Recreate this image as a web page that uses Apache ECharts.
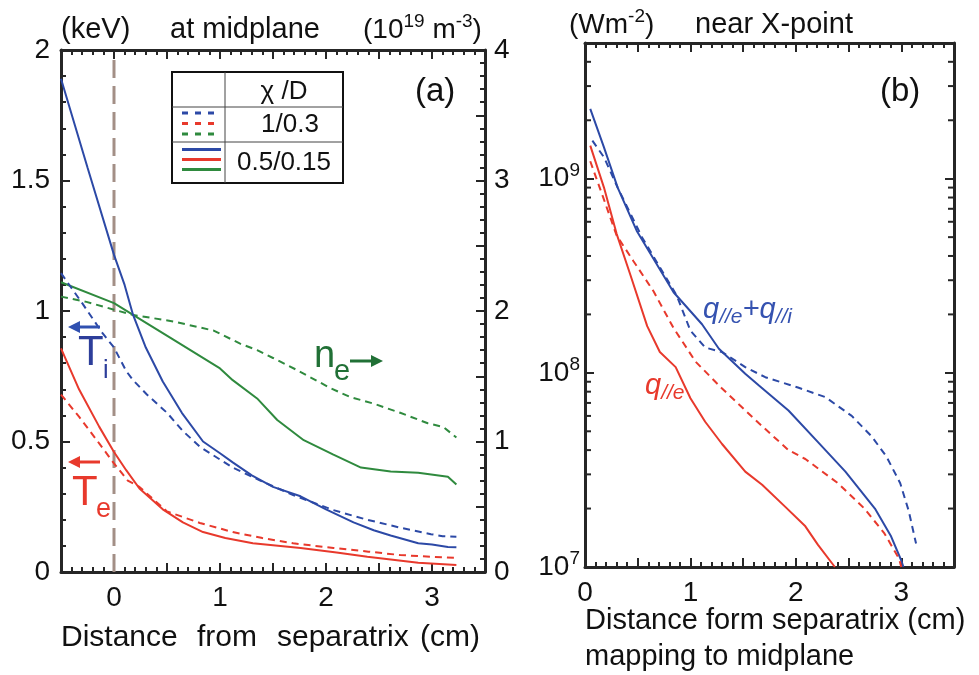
<!DOCTYPE html>
<html>
<head>
<meta charset="utf-8">
<script src="https://cdn.jsdelivr.net/npm/echarts@6/dist/echarts.min.js"></script>
<style>
  html, body { margin: 0; padding: 0; background: #fff; }
  #chart { width: 979px; height: 675px; }
</style>
</head>
<body>
<div id="chart"></div>
<script>
// (a) at midplane: [distance cm, keV] / [distance cm, 10^19 m^-3]
var tiSolid = [[-0.5,1.89],[-0.25,1.55],[0,1.215],[0.1,1.10],[0.18,0.985],[0.3,0.86],[0.46,0.73],[0.64,0.61],[0.84,0.50],[1.0,0.455],[1.12,0.42],[1.3,0.37],[1.5,0.326],[1.76,0.29],[2.0,0.24],[2.26,0.19],[2.45,0.16],[2.61,0.14],[2.87,0.11],[3.0,0.105],[3.15,0.096],[3.23,0.095]];
var tiDash = [[-0.5,1.145],[-0.3,1.03],[-0.11,0.916],[0,0.86],[0.115,0.77],[0.18,0.735],[0.31,0.68],[0.5,0.61],[0.65,0.54],[0.81,0.48],[1.12,0.40],[1.38,0.35],[1.69,0.295],[2.07,0.237],[2.39,0.20],[2.7,0.17],[2.99,0.145],[3.1,0.137],[3.23,0.135]];
var teSolid = [[-0.5,0.857],[-0.33,0.70],[-0.14,0.557],[0,0.46],[0.115,0.39],[0.24,0.32],[0.46,0.24],[0.65,0.19],[0.84,0.153],[1.05,0.13],[1.31,0.11],[1.76,0.092],[2.1,0.075],[2.39,0.058],[2.87,0.035],[3.23,0.027]];
var teDash = [[-0.5,0.68],[-0.33,0.595],[-0.14,0.493],[0,0.416],[0.13,0.35],[0.24,0.326],[0.5,0.232],[0.81,0.188],[1.12,0.153],[1.4,0.13],[1.69,0.11],[2.07,0.092],[2.4,0.078],[2.7,0.065],[3.0,0.058],[3.23,0.054]];
var neSolid = [[-0.5,2.22],[0,2.06],[0.18,1.97],[0.56,1.78],[1.0,1.56],[1.12,1.47],[1.35,1.33],[1.54,1.165],[1.79,1.01],[2.07,0.90],[2.33,0.80],[2.61,0.77],[2.87,0.76],[3.15,0.73],[3.23,0.67]];
var neDash = [[-0.5,2.11],[-0.26,2.07],[0,2.01],[0.18,1.97],[0.56,1.92],[0.94,1.85],[1.19,1.75],[1.35,1.70],[1.5,1.64],[1.72,1.55],[2.04,1.41],[2.23,1.34],[2.45,1.29],[2.7,1.22],[2.96,1.14],[3.11,1.11],[3.23,1.03]];
var separatrix = [[0, 0], [0, 1.97]];

// (b) near X-point: [distance cm, W m^-2]
var qTotSolid = [[0.05,2.29e9],[0.18,1.45e9],[0.31,9.0e8],[0.49,5.4e8],[0.84,2.6e8],[1.11,1.78e8],[1.27,1.33e8],[1.52,9.9e7],[1.65,8.6e7],[1.93,6.4e7],[2.21,4.4e7],[2.47,3.1e7],[2.75,2.0e7],[2.9,1.45e7],[3.0,1.08e7],[3.02,1.0e7]];
var qTotDash = [[0.07,1.57e9],[0.18,1.29e9],[0.31,9.0e8],[0.54,5.0e8],[0.87,2.5e8],[1.0,1.65e8],[1.14,1.35e8],[1.3,1.28e8],[1.52,1.07e8],[1.71,9.5e7],[2.02,8.4e7],[2.28,7.5e7],[2.53,6.0e7],[2.72,4.7e7],[2.86,3.7e7],[2.99,2.7e7],[3.07,1.95e7],[3.14,1.32e7]];
var qeSolid = [[0.05,1.48e9],[0.18,9.0e8],[0.3,5.2e8],[0.43,3.2e8],[0.59,1.74e8],[0.71,1.28e8],[0.86,1.07e8],[1.0,7.4e7],[1.14,5.6e7],[1.3,4.3e7],[1.52,3.1e7],[1.68,2.65e7],[1.9,2.04e7],[2.09,1.62e7],[2.21,1.3e7],[2.37,1.0e7]];
var qeDash = [[0.05,1.23e9],[0.18,7.8e8],[0.3,5.1e8],[0.46,3.76e8],[0.65,2.63e8],[0.84,1.7e8],[1.05,1.14e8],[1.3,8.3e7],[1.65,5.5e7],[1.93,4.0e7],[2.09,3.6e7],[2.4,2.7e7],[2.65,2.0e7],[2.84,1.49e7],[2.98,1.1e7],[3.0,1.0e7]];

var logMinorTicks = [2e7,3e7,4e7,5e7,6e7,7e7,8e7,9e7,2e8,3e8,4e8,5e8,6e8,7e8,8e8,9e8,2e9,3e9,4e9];
var legendRows = ['1/0.3', '0.5/0.15'];

var FONT = '"Liberation Sans", Arial, sans-serif';
var BLUE = '#2c49a6', RED = '#e8392c', GREEN = '#2f8a3e', BROWN = '#a38f86';
var INK = '#111111';
var FRAME = '#262626';

function lineSeries(data, color, dashed, xi, yi) {
    return {
        type: 'line', data: data, xAxisIndex: xi, yAxisIndex: yi,
        showSymbol: false, silent: true, animation: false,
        lineStyle: { color: color, width: 2, type: dashed ? [7, 5] : 'solid' }
    };
}

// axis frame line, inward major ticks, minor ticks
function frameAxis(extra, minor) {
    var a = {
        axisLine: { show: true, onZero: false, lineStyle: { color: FRAME, width: 3 } },
        axisTick: { show: true, inside: true, length: 9, lineStyle: { color: FRAME, width: 2 } },
        splitLine: { show: false },
        axisLabel: { show: false }
    };
    if (minor) a.minorTick = { show: true, splitNumber: minor, length: 5, lineStyle: { color: FRAME, width: 2 } };
    for (var k in extra) a[k] = extra[k];
    return a;
}
function intLabel(v) { return Math.abs(v - Math.round(v)) < 1e-9 ? String(Math.round(v)) : ''; }
function numLabel(margin, formatter) {
    return { show: true, margin: margin, color: INK, fontFamily: FONT, fontSize: 28, formatter: formatter };
}

var supRich = {
    n: { fontFamily: FONT, fontSize: 28, color: INK },
    s: { fontFamily: FONT, fontSize: 19, color: INK, padding: [0, 0, 16, 0] }
};

function text(x, y, str, size, color, extra) {
    var st = { text: str, fill: color || INK, font: (size || 28) + 'px ' + FONT, align: 'left', verticalAlign: 'middle' };
    if (extra) { for (var k in extra) st[k] = extra[k]; }
    return { type: 'text', x: x, y: y, z: 100, style: st };
}
function seg(x1, y1, x2, y2, color, w, dash) {
    var st = { stroke: color, lineWidth: w };
    if (dash) st.lineDash = dash;
    return { type: 'line', z: 100, shape: { x1: x1, y1: y1, x2: x2, y2: y2 }, style: st };
}
function arrow(x1, x2, y, color, dir) {
    var head = dir < 0 ? [[x1, y], [x1 + 12, y - 6], [x1 + 12, y + 6]] : [[x2, y], [x2 - 12, y - 6], [x2 - 12, y + 6]];
    return [
        seg(dir < 0 ? x1 + 10 : x1, y, dir < 0 ? x2 : x2 - 10, y, color, 3),
        { type: 'polygon', z: 100, shape: { points: head }, style: { fill: color } }
    ];
}

var graphics = [
    text(61, 30, '(keV)', 29),
    text(170, 30, 'at midplane', 29),
    text(363, 30, '{n|(10}{s|19}{n| m}{s|-3}{n|)}', 29, INK, { rich: supRich }),
    text(569, 25, '{n|(Wm}{s|-2}{n|)}', 29, INK, { rich: supRich }),
    text(695, 25, 'near X-point', 29),
    text(415, 92, '(a)', 33),
    text(880, 92, '(b)', 33),
    text(61, 638, 'Distance', 30),
    text(197, 638, 'from', 30),
    text(277, 638, 'separatrix', 30),
    text(420, 638, '(cm)', 30),
    text(585, 621, 'Distance form separatrix (cm)', 29),
    text(585, 657, 'mapping to midplane', 29),
    // legend table
    { type: 'rect', z: 99, shape: { x: 172, y: 72, width: 171, height: 111 }, style: { fill: '#fff', stroke: INK, lineWidth: 2 } },
    seg(225, 72, 225, 183, '#444', 1),
    seg(172, 107, 343, 107, '#444', 1),
    seg(172, 142, 343, 142, '#444', 1),
    text(284, 92, 'χ /D', 26, INK, { align: 'center' }),
    text(290, 125, legendRows[0], 26, INK, { align: 'center' }),
    text(284, 163, legendRows[1], 26, INK, { align: 'center' }),
    seg(182, 113, 221, 113, BLUE, 3, [6, 7]),
    seg(182, 123.5, 221, 123.5, RED, 3, [6, 7]),
    seg(182, 134, 221, 134, GREEN, 3, [6, 7]),
    seg(182, 149.5, 221, 149.5, BLUE, 3),
    seg(182, 159.5, 221, 159.5, RED, 3),
    seg(182, 169.5, 221, 169.5, GREEN, 3),
    // species labels
    text(78, 353, 'T', 42, '#2d3e9a'),
    text(103, 371, 'i', 25, '#2d3e9a'),
    text(72, 493, 'T', 42, RED),
    text(96, 510, 'e', 27, RED),
    text(314, 357, 'n', 38, '#217036'),
    text(334, 372, 'e', 29, '#217036'),
    text(703, 310, '{q|q}{s|//e}{q|+q}{s|//i}', 29, '#3552b0', { rich: {
        q: { fontFamily: FONT, fontSize: 29, fontStyle: 'italic', color: '#3552b0' },
        s: { fontFamily: FONT, fontSize: 21, fontStyle: 'italic', color: '#3552b0', padding: [14, 0, 0, 0] } } }),
    text(645, 386, '{q|q}{s|//e}', 29, RED, { rich: {
        q: { fontFamily: FONT, fontSize: 29, fontStyle: 'italic', color: RED },
        s: { fontFamily: FONT, fontSize: 21, fontStyle: 'italic', color: RED, padding: [14, 0, 0, 0] } } })
].concat(arrow(68, 100, 327, '#3050b0', -1))
 .concat(arrow(68, 100, 462, RED, -1))
 .concat(arrow(350, 383, 361, '#217036', 1));

var chart = echarts.init(document.getElementById('chart'));
chart.setOption({
    animation: false,
    backgroundColor: '#fff',
    grid: [
        { left: 61, top: 50, right: 494, bottom: 103, outerBoundsMode: 'none' },
        { left: 585, top: 43, right: 25, bottom: 108, outerBoundsMode: 'none' }
    ],
    xAxis: [
        frameAxis({ type: 'value', gridIndex: 0, position: 'bottom', min: -0.5, max: 3.5, interval: 0.5,
            axisLabel: numLabel(12, intLabel) }, 5),
        frameAxis({ type: 'value', gridIndex: 0, position: 'top', min: -0.5, max: 3.5, interval: 0.5 }, 5),
        frameAxis({ type: 'value', gridIndex: 1, position: 'bottom', min: 0, max: 3.5, interval: 0.5,
            axisLabel: numLabel(12, intLabel) }, 5),
        frameAxis({ type: 'value', gridIndex: 1, position: 'top', min: 0, max: 3.5, interval: 0.5 }, 5)
    ],
    yAxis: [
        frameAxis({ type: 'value', gridIndex: 0, position: 'left', min: 0, max: 2, interval: 0.5,
            axisLabel: numLabel(11, function (v) { return String(v); }) }, 5),
        frameAxis({ type: 'value', gridIndex: 0, position: 'right', min: 0, max: 4, interval: 0.5,
            axisLabel: numLabel(9, intLabel) }, 5),
        frameAxis({ type: 'log', logBase: 10, gridIndex: 1, position: 'left', min: 1e7, max: 5e9,
            axisLabel: {
                show: true, margin: 5, color: INK, showMaxLabel: false,
                formatter: function (v) {
                    var e = Math.log10(v);
                    if (Math.abs(e - Math.round(e)) > 1e-6) return '';
                    return '{n|10}{s|' + Math.round(e) + '}';
                },
                rich: supRich
            } }),
        frameAxis({ type: 'log', logBase: 10, gridIndex: 1, position: 'right', min: 1e7, max: 5e9 })
    ],
    series: [
        Object.assign(lineSeries(separatrix, BROWN, false, 0, 0), { lineStyle: { color: BROWN, width: 3, type: [18, 8] } }),
        lineSeries(neDash, GREEN, true, 0, 1),
        lineSeries(neSolid, GREEN, false, 0, 1),
        lineSeries(tiDash, BLUE, true, 0, 0),
        lineSeries(tiSolid, BLUE, false, 0, 0),
        lineSeries(teDash, RED, true, 0, 0),
        lineSeries(teSolid, RED, false, 0, 0),
        lineSeries(qTotDash, BLUE, true, 2, 2),
        lineSeries(qTotSolid, BLUE, false, 2, 2),
        lineSeries(qeDash, RED, true, 2, 2),
        lineSeries(qeSolid, RED, false, 2, 2),
        {
            // log minor ticks on both sides of panel (b)
            type: 'custom', xAxisIndex: 2, yAxisIndex: 2, silent: true, animation: false, clip: false,
            data: logMinorTicks.map(function (v) { return [0, v]; }),
            renderItem: function (params, api) {
                var v = api.value(1);
                var p = api.coord([0, v]);
                var q = api.coord([3.5, v]);
                return {
                    type: 'group',
                    children: [
                        { type: 'line', shape: { x1: p[0], y1: p[1], x2: p[0] + 6, y2: p[1] }, style: { stroke: FRAME, lineWidth: 2 } },
                        { type: 'line', shape: { x1: q[0] - 6, y1: q[1], x2: q[0], y2: q[1] }, style: { stroke: FRAME, lineWidth: 2 } }
                    ]
                };
            }
        }
    ],
    graphic: graphics
});

window.addEventListener('resize', function () {
    chart.resize();
});
</script>
</body>
</html>
